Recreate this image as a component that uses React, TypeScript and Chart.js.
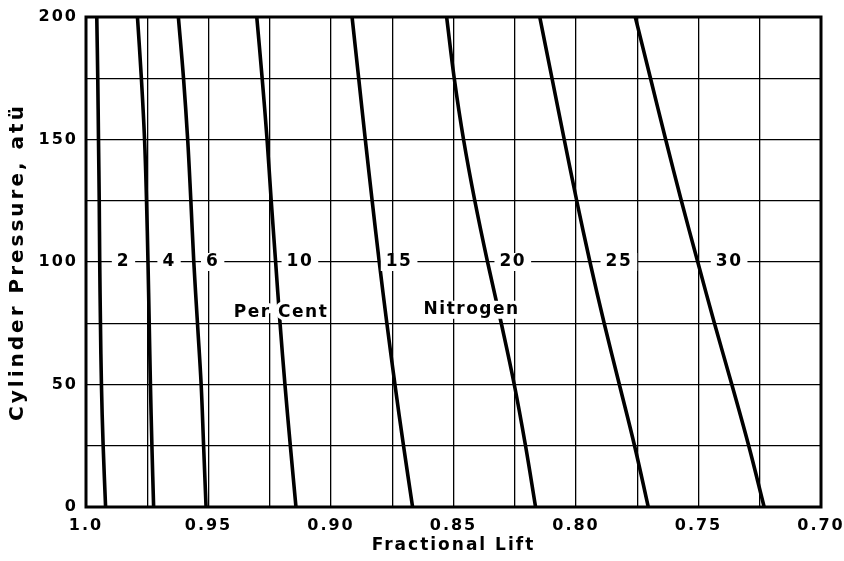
import React, { useEffect, useRef } from 'react';
import { Chart, registerables } from 'chart.js';

Chart.register(...registerables);

// Cylinder pressure (atü) at which each curve was read
const pressures = [0, 25, 50, 75, 100, 125, 150, 175, 200];

// Per cent nitrogen for each curve
const nitrogenPercents = [2, 4, 6, 10, 15, 20, 25, 30];

// Fractional lift for each nitrogen content, read at the pressures above
const lift2 = [0.992, 0.993, 0.9937, 0.9941, 0.9944, 0.9946, 0.9949, 0.9952, 0.9956];
const lift4 = [0.9724, 0.9731, 0.9737, 0.9742, 0.9747, 0.9753, 0.9761, 0.9774, 0.979];
const lift6 = [0.951, 0.952, 0.953, 0.9545, 0.956, 0.9572, 0.9585, 0.9602, 0.9623];
const lift10 = [0.9143, 0.9166, 0.9188, 0.9208, 0.9226, 0.9244, 0.9261, 0.9281, 0.9303];
const lift15 = [0.8667, 0.8704, 0.8739, 0.8772, 0.8803, 0.8832, 0.886, 0.8887, 0.8914];
const lift20 = [0.8165, 0.8206, 0.8252, 0.8305, 0.8361, 0.8413, 0.8459, 0.8497, 0.8528];
const lift25 = [0.7705, 0.7761, 0.7823, 0.7885, 0.7943, 0.7997, 0.8048, 0.8098, 0.8148];
const lift30 = [0.7232, 0.7295, 0.7364, 0.7435, 0.7503, 0.757, 0.7634, 0.7696, 0.7758];

const liftSeries = [lift2, lift4, lift6, lift10, lift15, lift20, lift25, lift30];

// Axis ranges / ticks
const xMin = 0.7;
const xMax = 1.0;
const xGridStep = 0.025;
const xLabelStep = 0.05;
const yMin = 0;
const yMax = 200;
const yGridStep = 25;
const yLabelStep = 50;

const xTitle = 'Fractional Lift';
const yTitle = 'Cylinder Pressure, atü';

// In-plot labels (in data coordinates)
const curveLabelLift = [0.9847, 0.9661, 0.9483, 0.9127, 0.8722, 0.8258, 0.7825, 0.7375];
const curveLabelPressure = 100;
const noteLabels = [
  { text: 'Per Cent', lift: 0.9204, pressure: 79.5, mask: 'halo' },
  { text: 'Nitrogen', lift: 0.8426, pressure: 80.5, mask: 'box' },
];

const FONT = '"DejaVu Sans", "Liberation Sans", sans-serif';

const labelsPlugin = {
  id: 'inPlotLabels',
  afterDatasetsDraw(chart: any) {
    const { ctx, scales } = chart;
    const xs = scales.x;
    const ys = scales.y;
    ctx.save();
    ctx.textAlign = 'center';
    ctx.textBaseline = 'middle';
    ctx.letterSpacing = '1.5px';
    const items: any[] = nitrogenPercents.map((p, i) => ({
      text: String(p),
      lift: curveLabelLift[i],
      pressure: curveLabelPressure,
      mask: 'box',
    }));
    noteLabels.forEach((n) => items.push(n));
    items.forEach((it) => {
      const px = xs.getPixelForValue(it.lift);
      const py = ys.getPixelForValue(it.pressure);
      ctx.font = `bold 17px ${FONT}`;
      const w = ctx.measureText(it.text).width;
      if (it.mask === 'box') {
        ctx.fillStyle = '#fff';
        ctx.fillRect(px - w / 2 - 5, py - 9, w + 10, 18);
      } else {
        ctx.strokeStyle = '#fff';
        ctx.lineWidth = 7;
        ctx.lineJoin = 'round';
        ctx.strokeText(it.text, px, py);
      }
      ctx.fillStyle = '#000';
      ctx.fillText(it.text, px, py);
    });
    ctx.restore();
  },
};

const frameAndSpacingPlugin = {
  id: 'frameAndSpacing',
  beforeDraw(chart: any) {
    chart.ctx.letterSpacing = '2px';
  },
  afterDraw(chart: any) {
    const { ctx, chartArea } = chart;
    ctx.save();
    ctx.letterSpacing = '0px';
    ctx.strokeStyle = '#000';
    ctx.lineWidth = 3;
    ctx.strokeRect(
      chartArea.left,
      chartArea.top,
      chartArea.right - chartArea.left,
      chartArea.bottom - chartArea.top
    );
    ctx.restore();
    ctx.letterSpacing = '0px';
  },
};

// widen the lettering of one axis title only
function spaceTitle(scale: any, spacing: string) {
  if (scale.__spaced) return;
  scale.__spaced = true;
  const orig = scale.drawTitle.bind(scale);
  scale.drawTitle = (...args: any[]) => {
    const prev = scale.ctx.letterSpacing;
    scale.ctx.letterSpacing = spacing;
    orig(...args);
    scale.ctx.letterSpacing = prev;
  };
}

export default function App() {
  const canvasRef = useRef<HTMLCanvasElement | null>(null);

  useEffect(() => {
    if (!canvasRef.current) return;
    const datasets = liftSeries.map((series, i) => ({
      label: `${nitrogenPercents[i]} % N2`,
      data: pressures.map((p, j) => ({ x: series[j], y: p })),
      showLine: true,
      borderColor: '#000',
      backgroundColor: '#000',
      borderWidth: 3.6,
      pointRadius: 0,
      tension: 0.4,
      fill: false,
    }));

    const chart = new Chart(canvasRef.current, {
      type: 'scatter',
      data: { datasets },
      plugins: [labelsPlugin, frameAndSpacingPlugin],
      options: {
        animation: false,
        responsive: true,
        maintainAspectRatio: false,
        layout: { padding: { top: 17, right: 23, left: 0, bottom: 0 } },
        plugins: {
          legend: { display: false },
          tooltip: { enabled: false },
        },
        scales: {
          x: {
            type: 'linear',
            min: xMin,
            max: xMax,
            reverse: true,
            border: { display: false },
            grid: { color: '#000', lineWidth: 1.3, drawTicks: false },
            ticks: {
              stepSize: xGridStep,
              autoSkip: false,
              maxRotation: 0,
              padding: 9,
              color: '#000',
              font: { family: FONT, size: 16, weight: 'bold' },
              callback: (value: any) => {
                const v = Math.round(Number(value) * 1000);
                const s = Math.round(xLabelStep * 1000);
                if (v % s !== 0) return '';
                return v === 1000 ? '1.0' : (v / 1000).toFixed(2);
              },
            },
            title: {
              display: true,
              text: xTitle,
              color: '#000',
              font: { family: FONT, size: 17, weight: 'bold' },
              padding: { top: 0, bottom: 5 },
            },
            afterFit: (scale: any) => {
              scale.height = 54;
              scale.paddingLeft = 0;
              scale.paddingRight = 0;
            },
          },
          y: {
            type: 'linear',
            min: yMin,
            max: yMax,
            border: { display: false },
            grid: { color: '#000', lineWidth: 1.3, drawTicks: false },
            ticks: {
              stepSize: yGridStep,
              autoSkip: false,
              padding: 8,
              color: '#000',
              font: { family: FONT, size: 16, weight: 'bold' },
              callback: (value: any) => {
                const v = Math.round(Number(value));
                return v % yLabelStep === 0 ? String(v) : '';
              },
            },
            title: {
              display: true,
              text: yTitle,
              color: '#000',
              font: { family: FONT, size: 20, weight: 'bold' },
              padding: { top: 6, bottom: 0 },
            },
            afterFit: (scale: any) => {
              scale.width = 86;
              scale.paddingTop = 0;
              scale.paddingBottom = 0;
              spaceTitle(scale, '3px');
            },
          },
        },
      } as any,
    });

    return () => {
      chart.destroy();
    };
  }, []);

  return (
    <div style={{ position: 'absolute', left: 0, top: 0, width: 844, height: 561, background: '#fff' }}>
      <canvas ref={canvasRef} />
    </div>
  );
}
